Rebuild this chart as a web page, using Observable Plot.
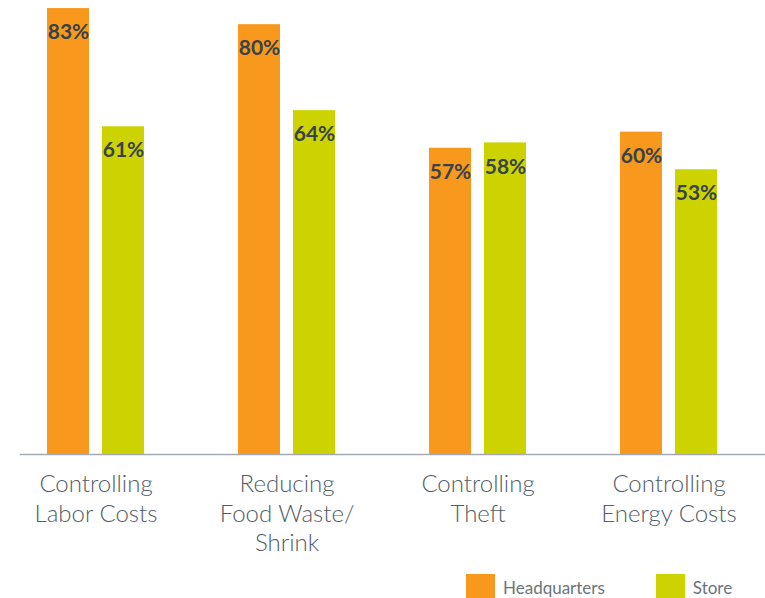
<!DOCTYPE html>
<html>
<head>
<meta charset="utf-8">
<script src="https://cdn.jsdelivr.net/npm/d3@7"></script>
<script src="https://cdn.jsdelivr.net/npm/@observablehq/plot@0.6"></script>
<style>
  body { margin: 0; background: #fff; font-family: Lato, "Noto Sans", sans-serif; }
  #legend { display: flex; align-items: center; height: 30px; margin-top: 4px; padding-left: 466px; }
  .item { display: flex; align-items: center; }
  .sw { width: 29px; height: 26px; margin-right: 8px; }
  .lab { font-size: 17px; color: #6b747d; }
</style>
</head>
<body>
<div id="chart"></div>
<div id="legend"></div>
<script>
const categories = ["Controlling\nLabor Costs", "Reducing\nFood Waste/\nShrink", "Controlling\nTheft", "Controlling\nEnergy Costs"];
const series = ["Headquarters", "Store"];
const headquarters = [83, 80, 57, 60];
const store = [61, 64, 58, 53];
const colors = ["#F8991D", "#CDD300"];

const data = [];
categories.forEach((c, i) => {
  data.push({category: c, series: series[0], value: headquarters[i]});
  data.push({category: c, series: series[1], value: store[i]});
});

const chart = Plot.plot({
  width: 765,
  height: 568,
  marginTop: 0,
  marginBottom: 114,
  marginLeft: -1,
  marginRight: 0,
  style: {fontFamily: "Lato, 'Noto Sans', sans-serif", background: "#fff", overflow: "visible"},
  fx: {domain: categories, paddingInner: 0.482, paddingOuter: 0.241, label: null},
  x: {domain: series, paddingInner: 0.232, paddingOuter: 0, axis: null},
  y: {domain: [0, 84.5], axis: null},
  color: {domain: series, range: colors},
  marks: [
    Plot.barY(data, {fx: "category", x: "series", y: "value", fill: "series"}),
    Plot.text(data, {fx: "category", x: "series", y: "value", text: d => d.value + "%", dy: 24,
      fill: "#38424c", fontSize: 21, fontWeight: 700}),
    Plot.frame({anchor: "bottom", facet: "super", stroke: "#a3aab1", strokeWidth: 1.5, insetLeft: -26, insetRight: -47}),
    Plot.axisFx({anchor: "bottom", tickSize: 0, tickPadding: 17, fontSize: 24, fontWeight: 300, lineHeight: 1.22,
      fill: "#525c66", label: null})
  ]
});
document.getElementById("chart").appendChild(chart);

const legend = d3.select("#legend");
series.forEach((s, i) => {
  const it = legend.append("div").attr("class", "item").style("margin-right", i === 0 ? "51px" : "0");
  it.append("div").attr("class", "sw").style("background", colors[i]);
  it.append("span").attr("class", "lab").text(s);
});
</script>
</body>
</html>
